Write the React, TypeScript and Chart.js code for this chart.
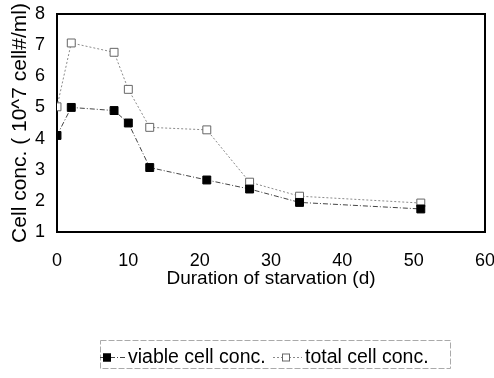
import React, { useEffect, useRef } from "react";
import { Chart, registerables } from "chart.js";

Chart.register(...registerables);

const days = [0, 2, 8, 10, 13, 21, 27, 34, 51];
const viableConc = [4.1, 5.0, 4.9, 4.5, 3.07, 2.67, 2.38, 1.95, 1.74];
const totalConc = [5.02, 7.07, 6.77, 5.58, 4.36, 4.28, 2.6, 2.15, 1.93];
const xTicks = [0, 10, 20, 30, 40, 50, 60];
const yTicks = [1, 2, 3, 4, 5, 6, 7, 8];
const seriesLabels = ["viable cell conc.", "total cell conc."];

const FONT = "'Liberation Sans', Arial, sans-serif";

const frame = {
  id: "frame",
  beforeDatasetsDraw(chart: any) {
    const { ctx, chartArea: a } = chart;
    ctx.save();
    ctx.strokeStyle = "#000";
    ctx.lineWidth = 2;
    ctx.strokeRect(a.left, a.top, a.right - a.left, a.bottom - a.top);
    ctx.restore();
  },
};

const legendBox = {
  id: "legendBox",
  afterDraw(chart: any) {
    const { ctx } = chart;
    const ds = chart.data.datasets;
    ctx.save();
    ctx.strokeStyle = "#aaa";
    ctx.lineWidth = 1;
    ctx.setLineDash([6, 2]);
    ctx.strokeRect(100.5, 340.5, 350, 28);
    ctx.setLineDash([]);
    const cy = 357;
    ctx.font = `19.5px ${FONT}`;
    ctx.textBaseline = "middle";
    ctx.fillStyle = "#000";
    const items = [
      { x0: 100, x1: 125, mx: 107, tx: 128 },
      { x0: 273, x1: 302, mx: 286, tx: 305 },
    ];
    items.forEach((it, i) => {
      const d = ds[i];
      ctx.save();
      ctx.strokeStyle = d.borderColor;
      ctx.lineWidth = 1;
      ctx.setLineDash(d.borderDash || []);
      ctx.beginPath();
      ctx.moveTo(it.x0, cy + 0.5);
      ctx.lineTo(it.x1, cy + 0.5);
      ctx.stroke();
      ctx.setLineDash([]);
      ctx.fillStyle = d.pointBackgroundColor;
      ctx.strokeStyle = d.pointBorderColor;
      ctx.fillRect(it.mx - 4, cy - 3.5, 8, 8);
      ctx.strokeRect(it.mx - 3.5, cy - 3, 7, 7);
      ctx.restore();
      ctx.fillText(d.label, it.tx, cy + 1);
    });
    ctx.restore();
  },
};

export default function App() {
  const ref = useRef<HTMLCanvasElement | null>(null);
  useEffect(() => {
    if (!ref.current) return;
    const chart = new Chart(ref.current, {
      type: "line",
      data: {
        datasets: [
          {
            label: seriesLabels[0],
            data: days.map((d, i) => ({ x: d, y: viableConc[i] })),
            borderColor: "#444",
            borderWidth: 1,
            borderDash: [5, 2, 1, 2],
            pointStyle: "rect",
            pointRadius: 5.6,
            pointBackgroundColor: "#000",
            pointBorderColor: "#000",
            pointBorderWidth: 1,
            tension: 0,
          },
          {
            label: seriesLabels[1],
            data: days.map((d, i) => ({ x: d, y: totalConc[i] })),
            borderColor: "#8a8a8a",
            borderWidth: 1,
            borderDash: [2, 2],
            pointStyle: "rect",
            pointRadius: 5.6,
            pointBackgroundColor: "#fff",
            pointBorderColor: "#666",
            pointBorderWidth: 1,
            tension: 0,
          },
        ],
      },
      options: {
        animation: false,
        responsive: false,
        devicePixelRatio: 1,
        layout: { padding: { left: 0, top: 14, right: 9, bottom: 87.5 } },
        plugins: { legend: { display: false }, tooltip: { enabled: false } },
        scales: {
          x: {
            type: "linear",
            min: 0,
            max: 60,
            grid: { display: false, drawTicks: false },
            border: { display: false },
            afterBuildTicks: (s: any) => {
              s.ticks = xTicks.map((v) => ({ value: v }));
            },
            afterFit: (s: any) => {
              s.height = 58.5;
              s.paddingLeft = 0;
              s.paddingRight = 0;
            },
            ticks: {
              autoSkip: false,
              maxRotation: 0,
              padding: 18,
              color: "#000",
              font: { family: FONT, size: 18 },
            },
            title: {
              display: true,
              text: "Duration of starvation (d)",
              color: "#000",
              font: { family: FONT, size: 19 },
              padding: { top: 0, bottom: 0 },
            },
          },
          y: {
            type: "linear",
            min: 1,
            max: 8,
            grid: { display: false, drawTicks: false },
            border: { display: false },
            afterBuildTicks: (s: any) => {
              s.ticks = yTicks.map((v) => ({ value: v }));
            },
            afterFit: (s: any) => {
              s.width = 57;
              s.paddingTop = 0;
              s.paddingBottom = 0;
            },
            ticks: {
              padding: 12,
              color: "#000",
              font: { family: FONT, size: 18 },
            },
            title: {
              display: true,
              text: "Cell conc. ( 10^7 cell#/ml)",
              color: "#000",
              font: { family: FONT, size: 21 },
              padding: { top: 8, bottom: 0 },
            },
          },
        },
      },
      plugins: [frame, legendBox],
    } as any);
    return () => chart.destroy();
  }, []);
  return (
    <div style={{ position: "fixed", left: 0, top: 0, width: 494, height: 378, background: "#fff" }}>
      <canvas ref={ref} width={494} height={378} />
    </div>
  );
}
